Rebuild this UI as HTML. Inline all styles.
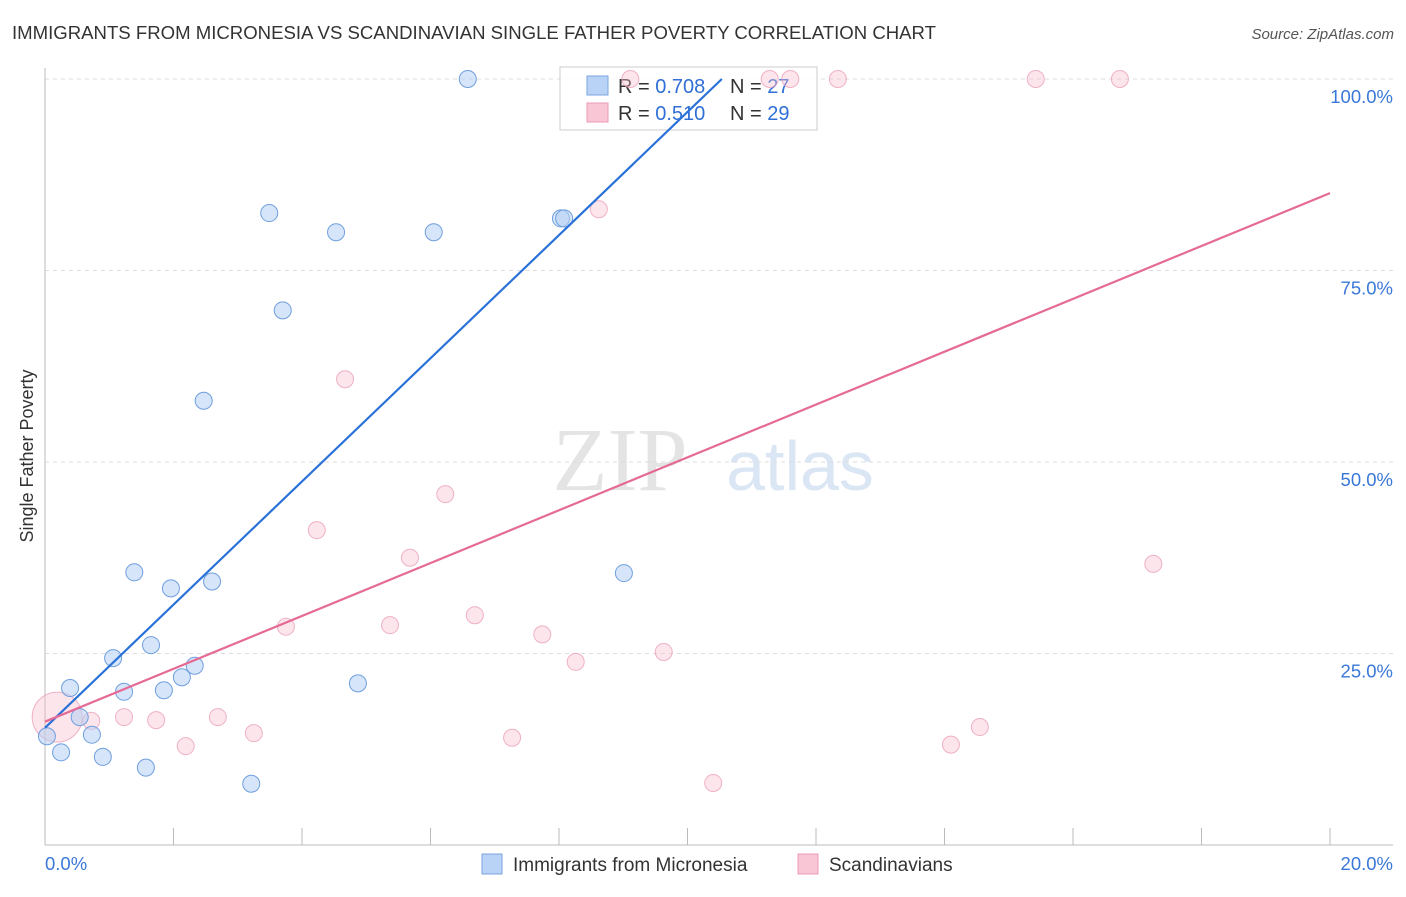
<!DOCTYPE html>
<html><head><meta charset="utf-8"><style>
body{margin:0;background:#fff;font-family:"Liberation Sans",sans-serif;}
</style></head><body>
<svg width="1406" height="892" xmlns="http://www.w3.org/2000/svg" id="chart" font-family="Liberation Sans, sans-serif">
<text x="12" y="39" font-size="18" fill="#333" textLength="924" lengthAdjust="spacingAndGlyphs">IMMIGRANTS FROM MICRONESIA VS SCANDINAVIAN SINGLE FATHER POVERTY CORRELATION CHART</text>
<text x="1394" y="39" font-size="15" fill="#555" text-anchor="end" font-style="italic">Source: ZipAtlas.com</text>
<text x="33" y="456" font-size="18" fill="#333" transform="rotate(-90 33 456)" text-anchor="middle">Single Father Poverty</text>
<text x="620" y="490" font-size="90" fill="#e4e4e4" font-family="Liberation Serif, serif" text-anchor="middle">ZIP</text>
<text x="800" y="490" font-size="70" fill="#dbe6f5" text-anchor="middle">atlas</text>
<g id="grid"></g><g id="axes"></g>
<g>
<rect x="560" y="67" width="257" height="63" fill="#fff" fill-opacity="0.8" stroke="#ccc"/>
<rect x="587" y="76" width="21" height="19" fill="#b8d3f5" stroke="#7aa6e0"/>
<rect x="587" y="103" width="21" height="19" fill="#f9c6d6" stroke="#ec99b4"/>
<text x="618" y="93" font-size="20" fill="#333">R = <tspan fill="#2f6fd6">0.708</tspan></text>
<text x="730" y="93" font-size="20" fill="#333">N = <tspan fill="#2f6fd6">27</tspan></text>
<text x="618" y="120" font-size="20" fill="#333">R =  <tspan fill="#2f6fd6">0.510</tspan></text>
<text x="730" y="120" font-size="20" fill="#333">N = <tspan fill="#2f6fd6">29</tspan></text>
</g>
<g id="marks"></g>
<g>
<rect x="482" y="854" width="20" height="20" fill="#b8d3f5" stroke="#7aa6e0"/>
<text x="513" y="871" font-size="19" fill="#333">Immigrants from Micronesia</text>
<rect x="798" y="854" width="20" height="20" fill="#f9c6d6" stroke="#ec99b4"/>
<text x="829" y="871" font-size="19" fill="#333">Scandinavians</text>
</g>
</svg>
<script>
const xTicks=[0,20];
const yTicks=[25,50,75,100];
const blueX=[6.58,3.49,4.53,6.05,8.03,8.08,3.70,2.47,1.39,1.96,2.60,9.01,1.06,1.65,0.39,1.23,1.85,2.33,2.13,4.87,0.54,0.03,0.73,0.25,0.90,1.57,3.21];
const blueY=[100,82.5,80.0,80.0,81.8,81.8,69.8,58.0,35.6,33.5,34.4,35.5,24.4,26.1,20.5,20.0,20.2,23.4,21.9,21.1,16.7,14.2,14.4,12.1,11.5,10.1,8.0];
const pinkX=[9.11,11.28,11.60,12.34,15.42,16.73,8.62,4.67,6.23,4.23,5.68,17.25,3.75,5.37,6.69,7.74,8.26,9.63,1.23,1.73,2.69,0.72,0.19,2.19,3.25,7.27,14.10,14.55,10.40];
const pinkY=[100,100,100,100,100,100,83.0,60.8,45.8,41.1,37.5,36.7,28.5,28.7,30.0,27.5,23.9,25.2,16.7,16.3,16.7,16.2,16.7,12.9,14.6,14.0,13.1,15.4,8.1];
const blueTrend=[15.3,8.04];
const pinkTrend=[16.1,3.45];
const X=v=>45+v*64.25, Y=v=>845-v*7.66;
const NS="http://www.w3.org/2000/svg";
function mk(parent,tag,attrs){const e=document.createElementNS(NS,tag);for(const k in attrs)e.setAttribute(k,attrs[k]);document.getElementById(parent).appendChild(e);return e;}
yTicks.forEach(t=>{
 const l=mk('grid','line',{x1:45,x2:1393,y1:Y(t),y2:Y(t),stroke:'#ddd','stroke-dasharray':'4 4'});
 
 
 const tx=mk('grid','text',{x:1393,y:Y(t)+24,'font-size':18.5,fill:'#3a78d8','text-anchor':'end'});
 tx.textContent=t.toFixed(1)+'%';
 
 
});
const ax=mk('axes','line',{x1:45,x2:1393,y1:845,y2:845,stroke:'#bbb'});


const ay=mk('axes','line',{x1:45,x2:45,y1:68,y2:845,stroke:'#bbb'});


for(let i=1;i<=10;i++){const t=mk('axes','line',{x1:X(i*2),x2:X(i*2),y1:828,y2:845,stroke:'#bbb'});
 
 }
xTicks.forEach((t,i)=>{const tx=mk('axes','text',{x:i?1393:45,y:870,'font-size':18.5,fill:'#3a78d8','text-anchor':i?'end':'start'});
 tx.textContent=t.toFixed(1)+'%';
 
 });
pinkX.forEach((x,i)=>{const c=mk('marks','circle',{cx:X(x),cy:Y(pinkY[i]),r:i==22?25:8.5,fill:'rgba(249,190,208,0.4)',stroke:'#eba0b9','stroke-width':1,'stroke-opacity':0.8});
 
 });
blueX.forEach((x,i)=>{const c=mk('marks','circle',{cx:X(x),cy:Y(blueY[i]),r:8.5,fill:'rgba(180,208,244,0.55)',stroke:'#6f9fde','stroke-width':1});
 
 });
const bx2=(100-blueTrend[0])/blueTrend[1];
const bl=mk('marks','line',{x1:X(0),y1:Y(blueTrend[0]),x2:X(bx2),y2:Y(100),stroke:'#2a72d8','stroke-width':2.2});


const pl=mk('marks','line',{x1:X(0),y1:Y(pinkTrend[0]),x2:X(20),y2:Y(pinkTrend[0]+20*pinkTrend[1]),stroke:'#e56a95','stroke-width':2.2});


</script>
</body></html>
